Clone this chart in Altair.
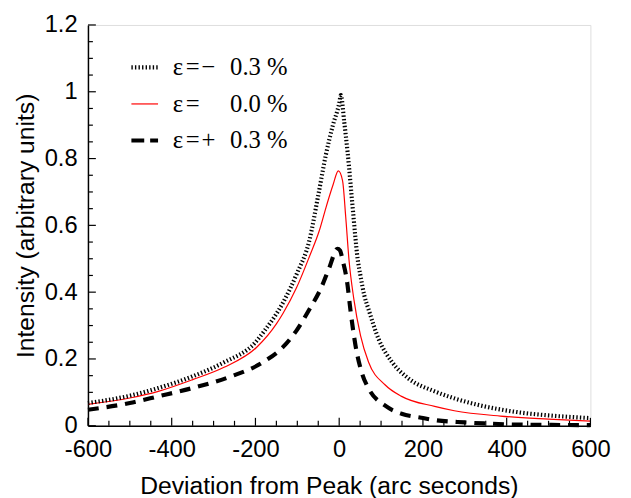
import altair as alt
import pandas as pd

# ---- data ----
x_minus = [-600, -500, -432, -350, -275, -200, -181, -134, -102, -71, -50, -32, -15, 0, 4, 12, 20, 31, 39, 43, 51, 60, 70, 94, 126, 165, 228, 275, 330, 424, 500, 600]
y_minus = [0.068, 0.090, 0.113, 0.148, 0.19, 0.25, 0.28, 0.369, 0.453, 0.556, 0.69, 0.81, 0.90, 0.965, 0.99, 0.91, 0.82, 0.67, 0.56, 0.51, 0.448, 0.39, 0.349, 0.26, 0.191, 0.142, 0.103, 0.082, 0.063, 0.041, 0.031, 0.023]

x_zero = [-600, -500, -432, -350, -275, -197, -150, -134, -102, -71, -47, -30, -15, -2, 8, 15.6, 23.4, 35, 51, 70, 110, 149, 228, 275, 385, 500, 600]
y_zero = [0.064, 0.083, 0.103, 0.138, 0.175, 0.235, 0.305, 0.337, 0.413, 0.507, 0.586, 0.66, 0.72, 0.763, 0.734, 0.625, 0.497, 0.379, 0.27, 0.191, 0.122, 0.088, 0.058, 0.045, 0.029, 0.020, 0.014]

x_plus = [-600, -500, -432, -350, -260, -181, -134, -102, -71, -43, -24, -4, 2, 8, 19, 27, 39, 55, 70, 110, 149, 196, 228, 300, 346, 450, 600]
y_plus = [0.048, 0.068, 0.088, 0.113, 0.147, 0.191, 0.236, 0.285, 0.349, 0.413, 0.472, 0.53, 0.525, 0.497, 0.43, 0.345, 0.24, 0.155, 0.112, 0.06, 0.036, 0.024, 0.017, 0.010, 0.007, 0.003, 0.002]

x_major_ticks = [-600, -400, -200, 0, 200, 400, 600]
x_minor_ticks = [-550, -500, -450, -350, -300, -250, -150, -100, -50, 50, 100, 150, 250, 300, 350, 450, 500, 550]
y_major_ticks = [0, 0.2, 0.4, 0.6, 0.8, 1.0, 1.2]
y_minor_ticks = [0.05, 0.1, 0.15, 0.25, 0.3, 0.35, 0.45, 0.5, 0.55, 0.65, 0.7, 0.75, 0.85, 0.9, 0.95, 1.05, 1.1, 1.15]

legend_sign = ["\u2212", "", "+"]
legend_num = ["0.3 %", "0.0 %", "0.3 %"]

# ---- layout ----
W, H = 509, 406
X0, X1 = -600, 600
Y0, Y1 = 0.0, 1.2
xscale = alt.Scale(domain=[X0, X1], nice=False, zero=False, padding=0)
yscale = alt.Scale(domain=[Y0, Y1], nice=False, zero=False, padding=0)

FONT = "Liberation Sans"
SERIF = "Liberation Serif"

xaxis = alt.Axis(
    values=x_major_ticks, ticks=False, tickSize=0, grid=False, labelFlush=False,
    labelExpr="toString(datum.value)", labelFont=FONT, labelFontSize=24,
    labelColor="black", labelPadding=12, domainColor="black", domainWidth=1.5,
    title="Deviation from Peak (arc seconds)", titleFont=FONT, titleFontSize=25,
    titleFontWeight="normal", titleColor="black", titlePadding=13, titleX=244,
)
yaxis = alt.Axis(
    values=y_major_ticks, ticks=False, tickSize=0, grid=False, labelFlush=False,
    labelExpr="toString(datum.value)", labelFont=FONT, labelFontSize=24,
    labelColor="black", labelPadding=11, domainColor="black", domainWidth=1.5,
    title="Intensity (arbitrary units)", titleFont=FONT, titleFontSize=25,
    titleFontWeight="normal", titleColor="black", titlePadding=6,
)


def series(xs, ys, color, width, dash=None):
    df = pd.DataFrame({"x": xs, "y": ys})
    kw = dict(color=color, strokeWidth=width, interpolate="monotone")
    if dash:
        kw["strokeDash"] = dash
    return alt.Chart(df).mark_line(**kw).encode(
        x=alt.X("x:Q", scale=xscale, axis=xaxis),
        y=alt.Y("y:Q", scale=yscale, axis=yaxis),
    )


line_minus = series(x_minus, y_minus, "black", 4.2, [1.4, 2.2])
line_zero = series(x_zero, y_zero, "#ff0000", 1.2)
line_plus = series(x_plus, y_plus, "black", 4.2, [11, 8])

# inward ticks: tick lengths given in pixels, converted to data units
def xticks(vals, px):
    d = pd.DataFrame({"v": vals, "a": [Y0] * len(vals), "b": [Y0 + px / H * (Y1 - Y0)] * len(vals)})
    return alt.Chart(d).mark_rule(color="black", strokeWidth=1.2).encode(
        x=alt.X("v:Q", scale=xscale, axis=xaxis),
        y=alt.Y("a:Q", scale=yscale, axis=yaxis), y2="b:Q")


def yticks(vals, px):
    d = pd.DataFrame({"v": vals, "a": [X0] * len(vals), "b": [X0 + px / W * (X1 - X0)] * len(vals)})
    return alt.Chart(d).mark_rule(color="black", strokeWidth=1.2).encode(
        y=alt.Y("v:Q", scale=yscale, axis=yaxis),
        x=alt.X("a:Q", scale=xscale, axis=xaxis), x2="b:Q")


# legend (placed in pixel space inside the plot)
row_y = [43, 80, 117]
leg_minus = alt.Chart(pd.DataFrame({"a": [0]})).mark_rule(color="black", strokeWidth=4.2, strokeDash=[1.4, 2.2]).encode(
    x=alt.value(44), x2=alt.value(71), y=alt.value(row_y[0]))
leg_zero = alt.Chart(pd.DataFrame({"a": [0]})).mark_rule(color="#ff0000", strokeWidth=1.2).encode(
    x=alt.value(44), x2=alt.value(71), y=alt.value(row_y[1]))
leg_plus = alt.Chart(pd.DataFrame({"a": [0]})).mark_rule(color="black", strokeWidth=4.2, strokeDash=[13, 6]).encode(
    x=alt.value(44), x2=alt.value(71), y=alt.value(row_y[2]))

leg_df = pd.DataFrame({"py": row_y, "eps": ["ε"] * 3, "eq": ["="] * 3, "sign": legend_sign, "num": legend_num})
txt_kw = dict(font=SERIF, fontSize=25, color="black", baseline="middle")
leg_eps = alt.Chart(leg_df).mark_text(align="left", **txt_kw).encode(
    x=alt.value(86), y=alt.Y("py:Q", scale=None), text="eps:N")
leg_eq = alt.Chart(leg_df).mark_text(align="center", **txt_kw).encode(
    x=alt.value(106), y=alt.Y("py:Q", scale=None), text="eq:N")
leg_sign = alt.Chart(leg_df).mark_text(align="center", **txt_kw).encode(
    x=alt.value(122), y=alt.Y("py:Q", scale=None), text="sign:N")
leg_num = alt.Chart(leg_df).mark_text(align="left", **txt_kw).encode(
    x=alt.value(144), y=alt.Y("py:Q", scale=None), text="num:N")

chart = alt.layer(
    line_zero, line_minus, line_plus,
    xticks(x_major_ticks, 8), xticks(x_minor_ticks, 5),
    yticks(y_major_ticks, 8), yticks(y_minor_ticks, 5),
    leg_minus, leg_zero, leg_plus, leg_eps, leg_eq, leg_sign, leg_num,
).properties(
    width=W, height=H,
    autosize=alt.AutoSizeParams(type="none"),
    padding={"left": 81, "top": 14, "right": 33, "bottom": 70},
).configure_view(stroke="#777777", strokeWidth=1.5).configure(background="white")

chart.save("out.html", embed_options={"renderer": "svg", "actions": False})
